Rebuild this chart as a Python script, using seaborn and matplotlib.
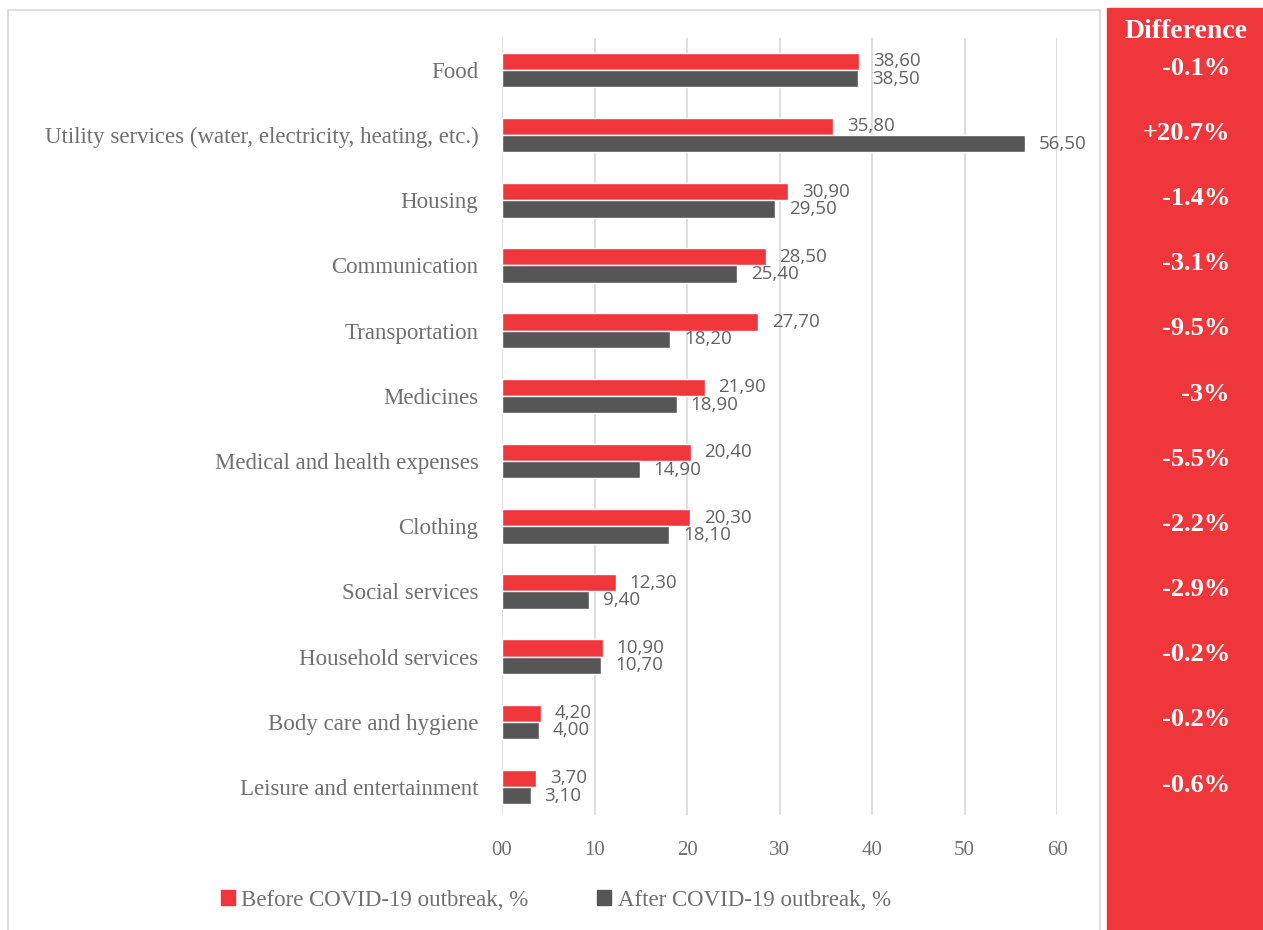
import matplotlib.pyplot as plt
import matplotlib.patches as mpatches
import seaborn as sns
import pandas as pd

categories = ["Food", "Utility services (water, electricity, heating, etc.)", "Housing",
              "Communication", "Transportation", "Medicines", "Medical and health expenses",
              "Clothing", "Social services", "Household services", "Body care and hygiene",
              "Leisure and entertainment"]
before = [38.6, 35.8, 30.9, 28.5, 27.7, 21.9, 20.4, 20.3, 12.3, 10.9, 4.2, 3.7]
after = [38.5, 56.5, 29.5, 25.4, 18.2, 18.9, 14.9, 18.1, 9.4, 10.7, 4.0, 3.1]
diffs = ["-0.1%", "+20.7%", "-1.4%", "-3.1%", "-9.5%", "-3%", "-5.5%", "-2.2%",
         "-2.9%", "-0.2%", "-0.2%", "-0.6%"]
series = ["Before COVID-19 outbreak, %", "After COVID-19 outbreak, %"]
xticks = [0, 10, 20, 30, 40, 50, 60]
xticklabels = ["00", "10", "20", "30", "40", "50", "60"]

RED = "#ee363b"
DARK = "#565656"
GREY = "#707070"

df = pd.DataFrame({
    "category": categories * 2,
    "value": before + after,
    "series": [series[0]] * len(categories) + [series[1]] * len(categories),
})

sns.set_style("white")
plt.rcParams["font.family"] = ["Liberation Serif", "DejaVu Serif"]

fig = plt.figure(figsize=(12.63, 9.30), dpi=100)
ax = fig.add_axes([502 / 1263, 1 - 815 / 930, 555 / 1263, 777 / 930])

sns.barplot(data=df, y="category", x="value", hue="series", order=categories,
            hue_order=series, palette=[RED, DARK], width=0.53, orient="h",
            saturation=1, ax=ax, legend=False)

for cont in ax.containers:
    ax.bar_label(cont, labels=[f"{v:.2f}".replace(".", ",") for v in cont.datavalues],
                 padding=10, fontsize=13.5, color="#636363",
                 family=["Open Sans", "DejaVu Sans"])

ax.set_xlim(0, 60)
ax.set_ylim(11.43, -0.49)
ax.set_xticks(xticks)
ax.set_xticklabels(xticklabels, fontsize=15, color=GREY)
ax.tick_params(axis="y", labelsize=16.5, labelcolor=GREY, pad=17, length=0)
ax.tick_params(axis="x", pad=19, length=0)
ax.set_xlabel("")
ax.set_ylabel("")
ax.grid(axis="x", color="#d9d9d9", linewidth=1.2)
ax.set_axisbelow(True)
for s in ax.spines.values():
    s.set_visible(False)

# outer frame of the chart area
fig.patches.append(mpatches.Rectangle((8 / 1263, -0.01), (1100 - 8) / 1263, 1 - 10 / 930 + 0.01,
                                      transform=fig.transFigure, fill=False,
                                      edgecolor="#d9d9d9", linewidth=1.2))

# difference panel
fig.patches.append(mpatches.Rectangle((1107 / 1263, 0), 1 - 1107 / 1263, 1 - 8 / 930,
                                      transform=fig.transFigure, color=RED))
fig.text(1186 / 1263, 1 - 31 / 930, "Difference", ha="center", va="center",
         fontsize=20, fontweight="bold", color="white")
for i, d in enumerate(diffs):
    y = ax.transData.transform((0, i))[1] / fig.bbox.height
    fig.text(1230 / 1263, y + 0.002, d, ha="right", va="center",
             fontsize=19, fontweight="bold", color="white")

# legend
handles = [mpatches.Patch(color=RED), mpatches.Patch(color=DARK)]
fig.legend(handles, series, loc="center", bbox_to_anchor=(556 / 1263, 1 - 900 / 930),
           ncol=2, frameon=False, fontsize=16.5, labelcolor=GREY, handlelength=0.6,
           handleheight=0.6, handletextpad=0.3, columnspacing=3.0)

fig.savefig("out.png", dpi=100)
